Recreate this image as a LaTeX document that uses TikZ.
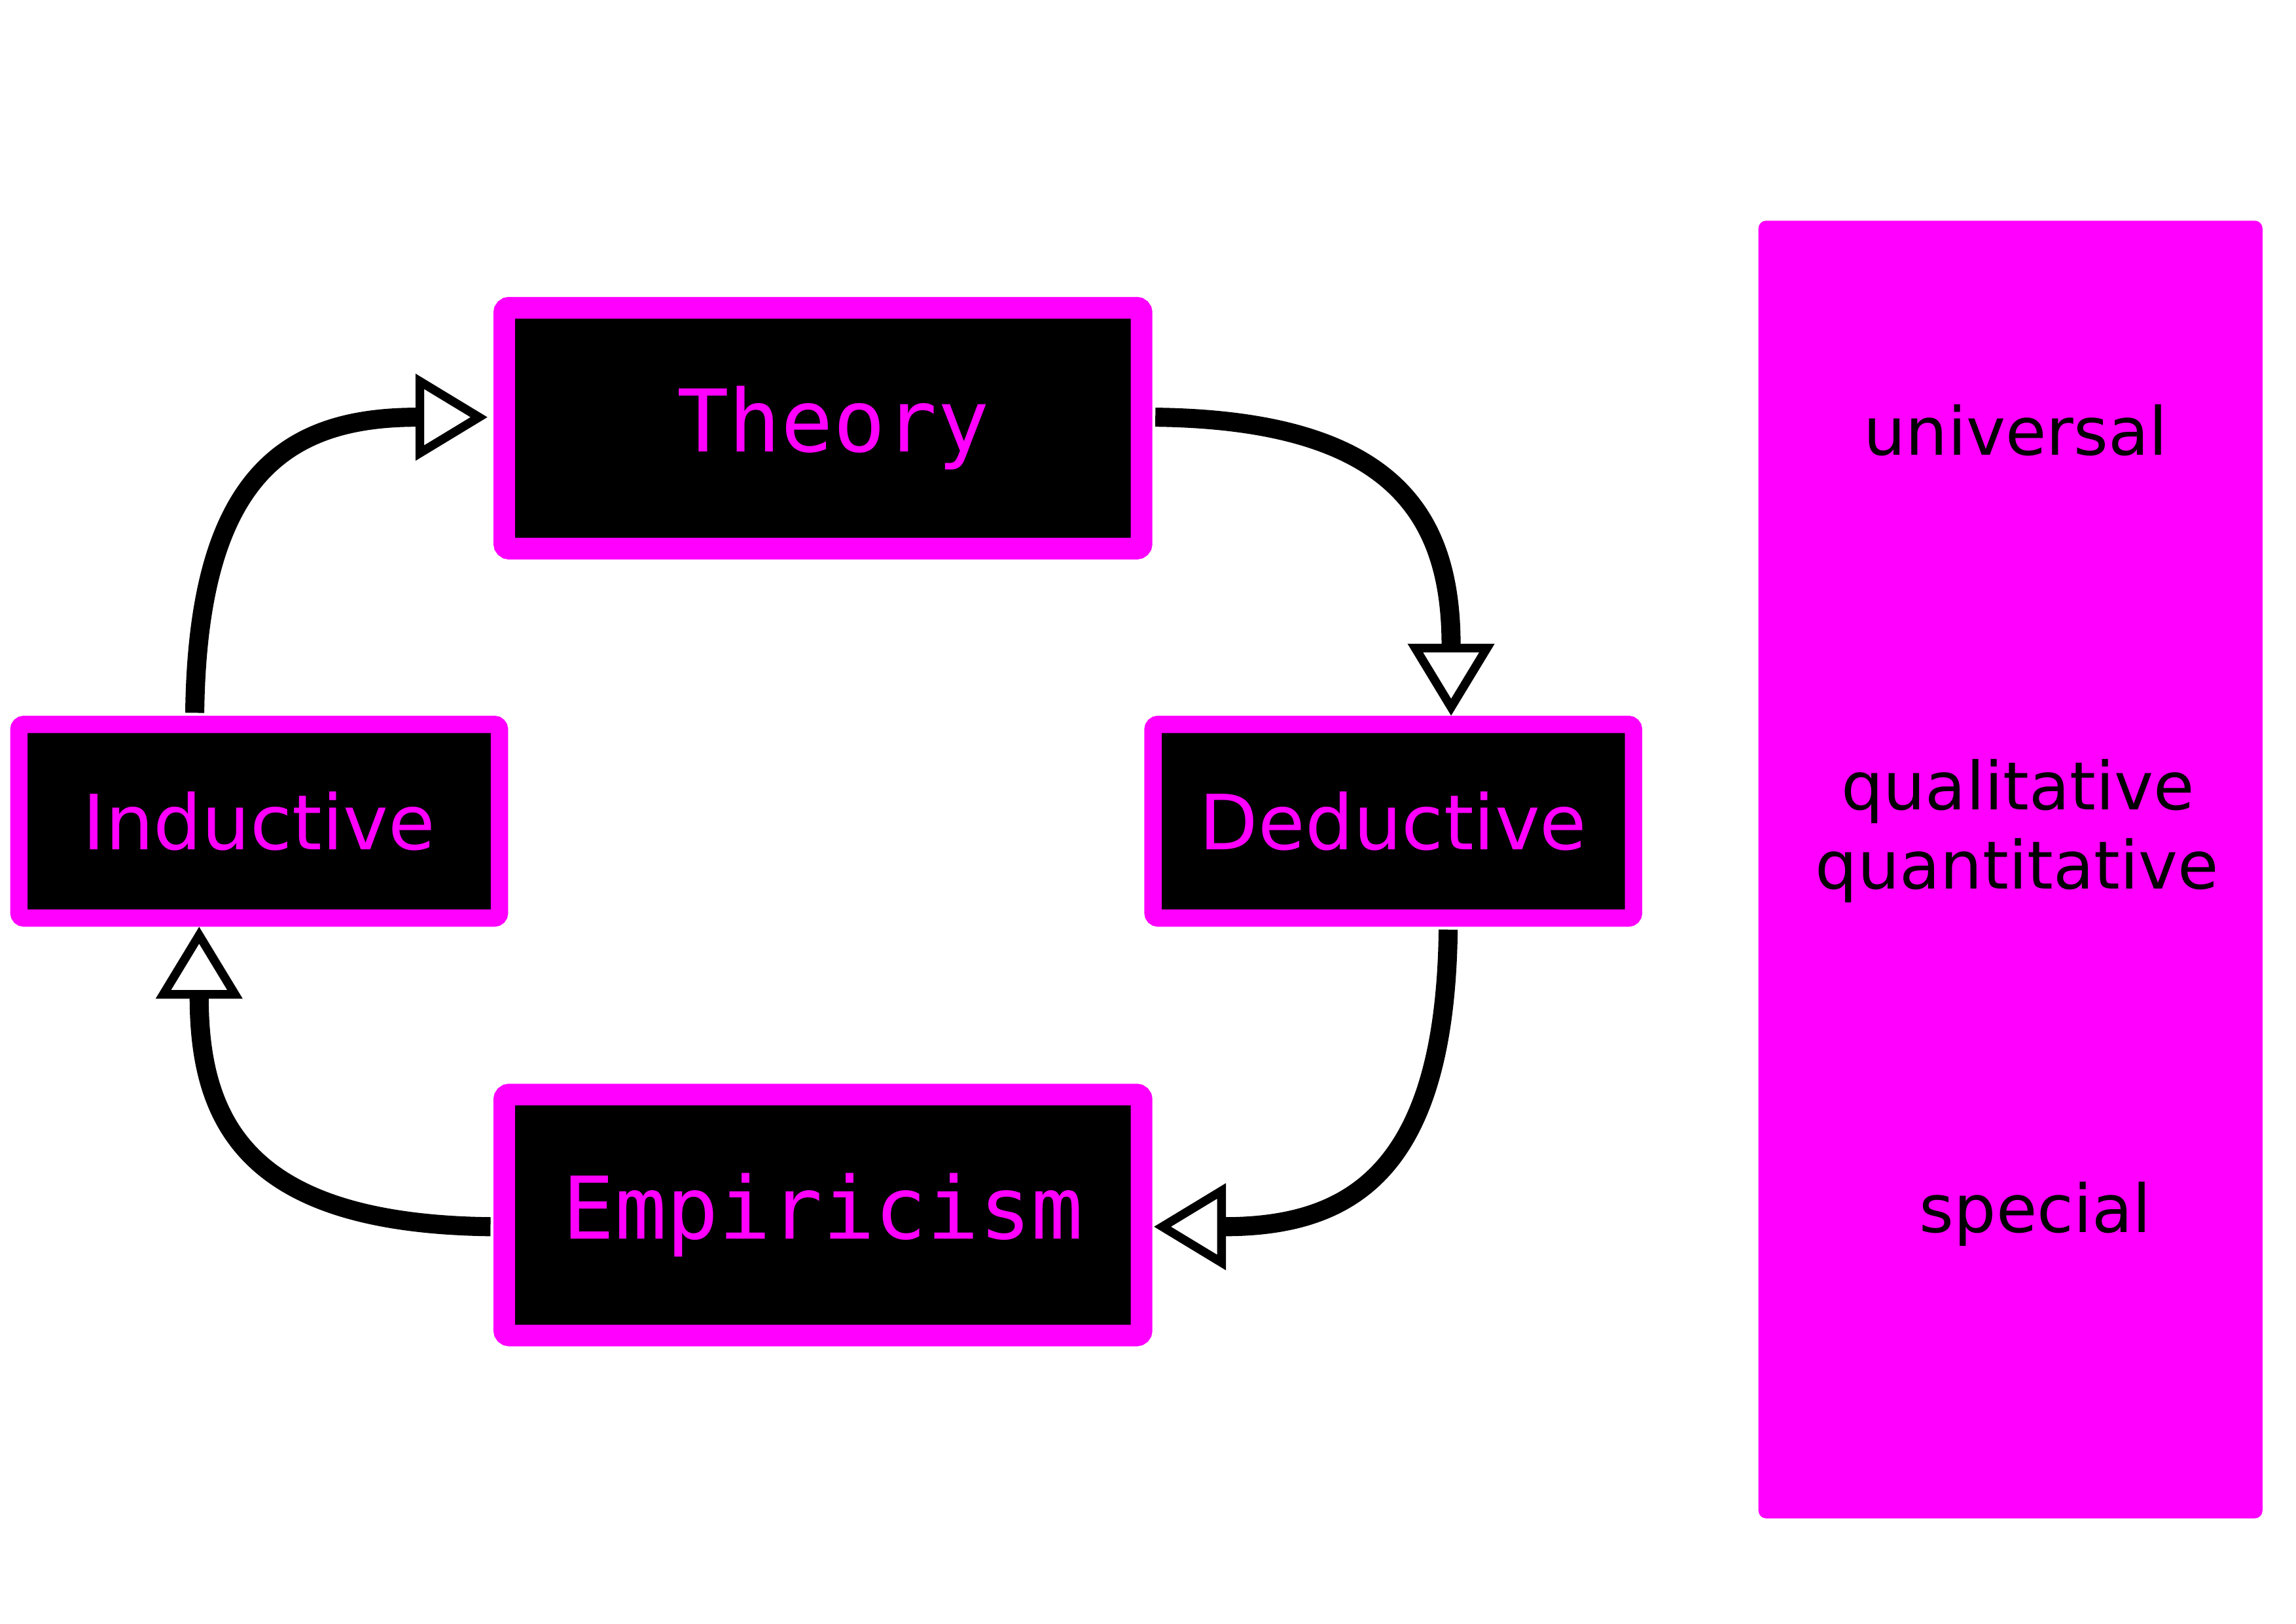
\documentclass[tikz,border=0pt]{standalone}
\usepackage{fontspec}
\setmainfont{DejaVu Sans}
\newfontfamily\cyclemono{DejaVu Sans Mono}
\usepackage{tikz}
\usetikzlibrary{arrows.meta, positioning, calc}
\definecolor{cyclemag}{RGB}{255,0,255}

\begin{document}
\begin{tikzpicture}[x=0.01cm, y=-0.01cm,
    stagebig/.style={draw=cyclemag, fill=black, line width=4.2pt, rounded corners=1pt,
        minimum width=4.35cm, minimum height=1.645cm, inner sep=0pt, text=cyclemag,
        font=\cyclemono\fontsize{16.8}{20}\selectfont},
    stagesmall/.style={draw=cyclemag, fill=black, line width=3.36pt, rounded corners=1pt,
        minimum width=3.28cm, minimum height=1.322cm, inner sep=0pt, text=cyclemag,
        font=\fontsize{14.8}{18}\selectfont},
    flow/.style={line width=3.7pt,
        -{Triangle[fill=white, length=14pt, width=16.5pt, line width=1.7pt]}},
    scalelabel/.style={font=\fontsize{12.9}{15.3}\selectfont, inner sep=0pt, anchor=base}
]

    \useasboundingbox (0,0) rectangle (1568,1109);

    % ============================================================
    % RESEARCH CYCLE
    % ============================================================
    \node[stagebig] (theory) at (562,292.5) {\hspace*{4pt}Theory};
    \node[stagesmall] (deductive) at (951.5,561) {Deductive};
    \node[stagebig] (empiricism) at (562,830) {Empiricism};
    \node[stagesmall] (inductive) at (177,561) {Inductive};

    \draw[flow] ($(theory.east)+(2,-7.5)$)
        .. controls +(165,2) and +(0,-135) .. ($(deductive.north)+(39.5,0)$);
    \draw[flow] ($(deductive.south)+(37.5,2)$)
        .. controls +(-2,165) and +(135,0) .. ($(empiricism.east)+(1,8)$);
    \draw[flow] ($(empiricism.west)+(-2,8)$)
        .. controls +(-165,-2) and +(0,135) .. ($(inductive.south)+(-41,0)$);
    \draw[flow] ($(inductive.north)+(-44,-2)$)
        .. controls +(2,-165) and +(-135,0) .. ($(theory.west)+(-4,-7.5)$);

    % ============================================================
    % SCALE OF GENERALITY
    % ============================================================
    \node[fill=cyclemag, rounded corners=1.5pt, minimum width=3.44cm,
        minimum height=8.86cm, inner sep=0pt] (scale) at (1373,594) {};
    \node[scalelabel] (universal) at (1376.5,311) {universal};
    \node[scalelabel] (qualitative) at (1378,553) {qualitative};
    \node[scalelabel] (quantitative) at (1377.5,607) {quantitative};
    \node[scalelabel] (special) at (1390,842) {special};

\end{tikzpicture}
\end{document}
